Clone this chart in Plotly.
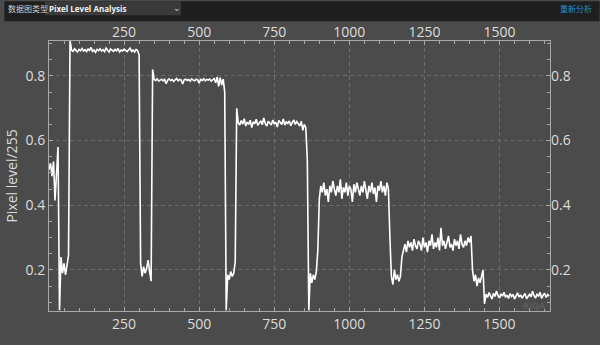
import plotly.graph_objects as go

# ---- data (pixel position step and normalised pixel levels) ----
position_step = 5
level_start = [0.51, 0.53, 0.49, 0.535, 0.415, 0.51, 0.58, 0.075, 0.24, 0.19, 0.22, 0.185, 0.21, 0.245]
plateau_1 = [0.91,
             0.880, 0.876, 0.884, 0.879, 0.874, 0.882, 0.878, 0.885, 0.877, 0.881,
             0.875, 0.883, 0.879, 0.888, 0.876, 0.880, 0.873, 0.882, 0.878, 0.884,
             0.877, 0.881, 0.875, 0.886, 0.879, 0.874, 0.883, 0.880, 0.876, 0.882,
             0.878, 0.885, 0.874, 0.880, 0.877, 0.883, 0.879, 0.875, 0.881, 0.886,
             0.876, 0.880, 0.874, 0.882, 0.878,
             0.865]
low_1 = [0.22, 0.18, 0.21, 0.19, 0.205, 0.23, 0.195, 0.165]
plateau_2 = [0.82,
             0.789, 0.786, 0.791, 0.784, 0.788, 0.790, 0.785, 0.789, 0.776, 0.787,
             0.791, 0.786, 0.789, 0.783, 0.788, 0.792, 0.785, 0.789, 0.787, 0.775,
             0.788, 0.790, 0.786, 0.789, 0.784, 0.791, 0.787, 0.785, 0.790, 0.788,
             0.778, 0.789, 0.786, 0.791, 0.785, 0.789, 0.787, 0.790, 0.784, 0.788,
             0.792, 0.779, 0.797, 0.768, 0.795, 0.772, 0.790,
             0.75]
low_2 = [0.075, 0.185, 0.17, 0.195, 0.18, 0.19, 0.225]
plateau_3 = [0.70,
             0.655, 0.648, 0.662, 0.651, 0.668, 0.645, 0.657, 0.650, 0.663, 0.640,
             0.658, 0.652, 0.666, 0.647, 0.656, 0.661, 0.649, 0.670, 0.653, 0.645,
             0.660, 0.654, 0.648, 0.664, 0.651, 0.657, 0.642, 0.662, 0.655, 0.650,
             0.667, 0.648, 0.658, 0.653, 0.661, 0.646, 0.656, 0.664, 0.650, 0.659,
             0.652, 0.645, 0.660, 0.632, 0.650, 0.640,
             0.54, 0.075]
low_3 = [0.19, 0.16, 0.185, 0.17, 0.195, 0.26]
plateau_4 = [0.42, 0.46, 0.44, 0.47, 0.43, 0.45, 0.41, 0.46, 0.44, 0.475,
             0.45, 0.43, 0.46, 0.44, 0.48, 0.42, 0.455, 0.44, 0.47, 0.43,
             0.46, 0.45, 0.41, 0.465, 0.44, 0.47, 0.45, 0.43, 0.46, 0.44,
             0.475, 0.45, 0.42, 0.46, 0.44, 0.47, 0.435, 0.455, 0.41, 0.46,
             0.445, 0.475, 0.44, 0.46, 0.43, 0.47, 0.45,
             0.30]
low_4 = [0.18, 0.155, 0.2, 0.17, 0.185, 0.165, 0.18, 0.24]
plateau_5 = [0.265, 0.28, 0.255, 0.29, 0.27, 0.285, 0.26, 0.295, 0.275, 0.265,
             0.29, 0.28, 0.26, 0.3, 0.27, 0.285, 0.255, 0.29, 0.275, 0.31,
             0.265, 0.285, 0.27, 0.3, 0.26, 0.33, 0.275, 0.29, 0.265, 0.285,
             0.305, 0.27, 0.28, 0.26, 0.295, 0.275, 0.29, 0.265, 0.31, 0.28,
             0.27, 0.29, 0.275, 0.3, 0.285, 0.305]
low_5 = [0.2, 0.165, 0.185, 0.15, 0.175, 0.16, 0.185, 0.2, 0.095]
plateau_6 = [0.125, 0.115, 0.13, 0.12, 0.11, 0.128, 0.118, 0.135, 0.12, 0.113,
             0.126, 0.119, 0.131, 0.115, 0.122, 0.112, 0.127, 0.118, 0.124, 0.11,
             0.121, 0.129, 0.116, 0.123, 0.113, 0.12, 0.127, 0.111, 0.119, 0.125,
             0.117, 0.134, 0.12, 0.113, 0.126, 0.118, 0.131, 0.112, 0.122, 0.128,
             0.115, 0.124, 0.119]

x_ticks = [250, 500, 750, 1000, 1250, 1500]
y_ticks = [0.2, 0.4, 0.6, 0.8]
x_range = [0, 1668]
y_range = [0.073, 0.908]

levels = (level_start + plateau_1 + low_1 + plateau_2 + low_2 + plateau_3 + low_3
          + plateau_4 + low_4 + plateau_5 + low_5 + plateau_6)
positions = [i * position_step for i in range(len(levels))]

# ---- styling ----
BG = "#4b4b4b"
BAR = "#1f1f1f"
FRAME = "#a8a8a8"
GRID = "#6c6c6c"
TXT = "#dcdcdc"
FONT = "Open Sans"
CJK = "Noto Sans CJK SC"

fig = go.Figure()
fig.add_trace(go.Scatter(x=positions, y=levels, mode="lines",
                         line=dict(color="#ffffff", width=1.6),
                         showlegend=False, hoverinfo="skip"))
fig.add_trace(go.Scatter(x=[None], y=[None], xaxis="x2", yaxis="y2",
                         mode="lines", showlegend=False, hoverinfo="skip"))

axis_common = dict(showline=True, linecolor=FRAME, linewidth=1, mirror="allticks",
                   ticks="inside", ticklen=4, tickcolor=FRAME,
                   showgrid=True, gridcolor=GRID, griddash="4px,3px", gridwidth=1,
                   zeroline=False, showticklabels=True,
                   tickfont=dict(size=14, color=TXT))

L, R, T, B = 45, 50, 41, 25
W, H = 600, 345
PW, PH = W - L - R, H - T - B

def px(p):
    return (p - L) / PW

def py(p):
    return (H - B - p) / PH

fig.update_layout(
    width=W, height=H,
    margin=dict(l=L, r=R, t=T, b=B, pad=0),
    paper_bgcolor=BG, plot_bgcolor=BG,
    font=dict(family=FONT, color=TXT, size=14),
    xaxis=dict(range=x_range, tickvals=x_ticks,
               minor=dict(dtick=50, ticks="inside", ticklen=3, tickcolor=FRAME, showgrid=False),
               **axis_common),
    yaxis=dict(range=y_range, tickvals=y_ticks, tickformat=".1f",
               title=dict(text="Pixel level/255", font=dict(size=14, color=TXT), standoff=4),
               minor=dict(dtick=0.05, ticks="inside", ticklen=3, tickcolor=FRAME, showgrid=False),
               **axis_common),
    xaxis2=dict(range=x_range, tickvals=x_ticks, overlaying="x", side="top",
                showgrid=False, zeroline=False, showline=False, ticks="",
                tickfont=dict(size=14, color=TXT)),
    yaxis2=dict(range=y_range, tickvals=y_ticks, overlaying="y", side="right",
                showgrid=False, zeroline=False, showline=False, ticks="",
                tickformat=".1f", tickfont=dict(size=14, color=TXT)),
)

# top toolbar
fig.add_shape(type="rect", xref="paper", yref="paper",
              x0=px(0), x1=px(W), y0=py(20.5), y1=py(0),
              fillcolor=BAR, line=dict(width=0), layer="above")
fig.add_shape(type="rect", xref="paper", yref="paper",
              x0=px(41), x1=px(178), y0=py(14.5), y1=py(0),
              fillcolor="#3a3a3a", line=dict(width=0), layer="above")
fig.add_annotation(xref="paper", yref="paper", x=px(2), y=py(7), xanchor="left", yanchor="middle",
                   text="数据图类型", showarrow=False, font=dict(family=CJK, size=8, color="#d0d0d0"))
fig.add_annotation(xref="paper", yref="paper", x=px(43), y=py(7), xanchor="left", yanchor="middle",
                   text="<b>Pixel Level Analysis</b>", showarrow=False,
                   font=dict(family=FONT, size=8, color="#f0f0f0"))
fig.add_annotation(xref="paper", yref="paper", x=px(174.5), y=py(6.5), xanchor="center", yanchor="middle",
                   text="⌄", showarrow=False, font=dict(family="DejaVu Sans", size=9, color="#c8c8c8"))
fig.add_annotation(xref="paper", yref="paper", x=px(594), y=py(7), xanchor="right", yanchor="middle",
                   text="重新分析", showarrow=False, font=dict(family=CJK, size=8, color="#1f8fd8"))
# watermark
fig.add_annotation(xref="paper", yref="paper", x=px(548), y=py(314), xanchor="right", yanchor="middle",
                   text="<b>RIQA</b>", showarrow=False, font=dict(family=FONT, size=9, color="#5e5e5e"))

fig.write_html("out.html")
